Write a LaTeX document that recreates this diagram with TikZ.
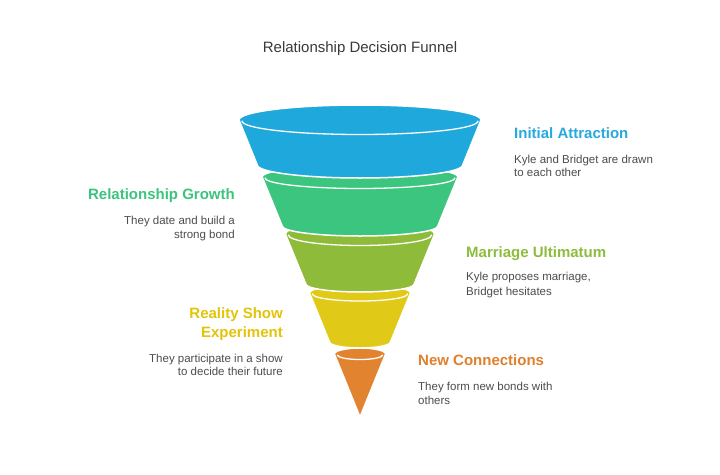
\documentclass[tikz,border=0pt]{standalone}
\usepackage{fontspec}
\setmainfont{Liberation Sans}
\definecolor{cblue}{HTML}{1FA8DB}
\definecolor{cgreen}{HTML}{3CC57E}
\definecolor{colive}{HTML}{8FBB3A}
\definecolor{cyellow}{HTML}{E0CA17}
\definecolor{corange}{HTML}{E2832F}
\definecolor{tblue}{HTML}{27A9DE}
\definecolor{tgreen}{HTML}{3CC47F}
\definecolor{tolive}{HTML}{8DBD3D}
\definecolor{tyellow}{HTML}{E2C40A}
\definecolor{torange}{HTML}{E07F2C}
\definecolor{bodygray}{HTML}{4D4D4D}
\definecolor{titlegray}{HTML}{3A3A3A}
\newcommand\funseg[7]{%
  \filldraw[segment, fill=#1] ({360-#3},{-#2}) arc[start angle=180,end angle=0,x radius=#3,y radius=#4]
    -- ({360+#6},{-#5}) arc[start angle=0,end angle=-180,x radius=#6,y radius=#7] -- cycle;
  \draw[rim] ({360-#3+3},{-#2-1}) arc[start angle=180,end angle=360,x radius={#3-3},y radius={#4-1.5}];
}
\begin{document}
\begin{tikzpicture}[x=1pt,y=1pt,
  segment/.style={draw=white, line width=1.5pt, line join=round},
  rim/.style={draw=white, line width=1.3pt, line cap=round},
  title/.style={font=\fontsize{15}{18}\selectfont, text=titlegray, inner sep=0pt},
  heading/.style={font=\fontsize{15}{18}\selectfont\bfseries, inner sep=0pt},
  body/.style={font=\fontsize{11.5}{15}\selectfont, text=bodygray, inner sep=0pt}]
\useasboundingbox[fill=white] (0,0) rectangle (720,-474);

% funnel segments, bottom to top
\filldraw[segment, fill=corange] (334.4,-354) arc[start angle=180,end angle=0,x radius=25.6,y radius=6] -- (360,-417) -- cycle;
\draw[rim] (337.4,-355) arc[start angle=180,end angle=360,x radius=22.6,y radius=4.5];
\funseg{cyellow}{293}{50.5}{8.5}{342}{30.5}{6}
\funseg{colive}{234}{74.6}{12}{284}{54.2}{8}
\funseg{cgreen}{177}{97.8}{12}{226}{77.8}{10}
\funseg{cblue}{120}{121}{15}{165}{102.7}{13}

% title
\node[title, anchor=base] (title) at (360,-52.5) {Relationship Decision Funnel};

% Initial Attraction
\node[heading, text=tblue, anchor=base west] (ia) at (514,-138) {Initial Attraction};
\node[body, anchor=base west] (ia1) at (514,-163) {Kyle and Bridget are drawn};
\node[body, anchor=base west] (ia2) at (514,-176.5) {to each other};

% Relationship Growth
\node[heading, text=tgreen, anchor=base east] (rg) at (235,-199.5) {Relationship Growth};
\node[body, anchor=base east] (rg1) at (235,-224.5) {They date and build a};
\node[body, anchor=base east] (rg2) at (235,-238) {strong bond};

% Marriage Ultimatum
\node[heading, text=tolive, anchor=base west] (mu) at (466,-257) {Marriage Ultimatum};
\node[body, anchor=base west] (mu1) at (466,-280.5) {Kyle proposes marriage,};
\node[body, anchor=base west] (mu2) at (466,-295) {Bridget hesitates};

% Reality Show Experiment
\node[heading, text=tyellow, anchor=base east] (rs) at (283,-318.5) {Reality Show};
\node[heading, text=tyellow, anchor=base east] (rs2) at (283,-337.5) {Experiment};
\node[body, anchor=base east] (rs3) at (283,-362) {They participate in a show};
\node[body, anchor=base east] (rs4) at (283,-375.5) {to decide their future};

% New Connections
\node[heading, text=torange, anchor=base west] (nc) at (418,-365.5) {New Connections};
\node[body, anchor=base west] (nc1) at (418,-390) {They form new bonds with};
\node[body, anchor=base west] (nc2) at (418,-404) {others};
\end{tikzpicture}
\end{document}
